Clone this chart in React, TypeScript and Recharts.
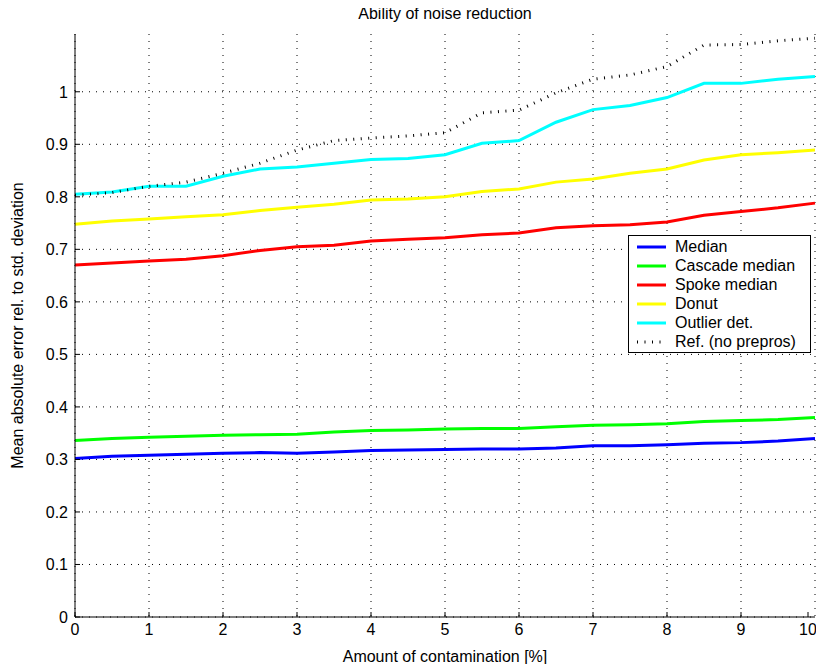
import React from 'react';
import { LineChart, Line, XAxis, YAxis, CartesianGrid, Legend } from 'recharts';

const contamination = [0, 0.5, 1, 1.5, 2, 2.5, 3, 3.5, 4, 4.5, 5, 5.5, 6, 6.5, 7, 7.5, 8, 8.5, 9, 9.5, 10];

const median = [0.302, 0.306, 0.308, 0.31, 0.312, 0.313, 0.312, 0.314, 0.317, 0.318, 0.319, 0.32, 0.32, 0.322, 0.326, 0.326, 0.328, 0.331, 0.332, 0.335, 0.34];
const cascadeMedian = [0.336, 0.34, 0.342, 0.344, 0.346, 0.347, 0.348, 0.352, 0.355, 0.356, 0.358, 0.359, 0.359, 0.362, 0.365, 0.366, 0.368, 0.372, 0.374, 0.376, 0.38];
const spokeMedian = [0.67, 0.674, 0.678, 0.681, 0.688, 0.698, 0.705, 0.708, 0.716, 0.719, 0.722, 0.728, 0.731, 0.741, 0.745, 0.747, 0.752, 0.765, 0.772, 0.779, 0.788];
const donut = [0.748, 0.754, 0.758, 0.762, 0.766, 0.774, 0.78, 0.786, 0.794, 0.796, 0.8, 0.81, 0.815, 0.828, 0.834, 0.845, 0.853, 0.87, 0.88, 0.884, 0.889];
const outlierDet = [0.805, 0.809, 0.82, 0.82, 0.839, 0.853, 0.857, 0.864, 0.871, 0.873, 0.88, 0.902, 0.907, 0.942, 0.966, 0.974, 0.989, 1.016, 1.016, 1.024, 1.029];
const refNoPrepros = [0.803, 0.808, 0.82, 0.828, 0.845, 0.864, 0.889, 0.907, 0.912, 0.916, 0.922, 0.96, 0.965, 0.998, 1.024, 1.032, 1.048, 1.089, 1.09, 1.097, 1.102];

const xTicks = [0, 1, 2, 3, 4, 5, 6, 7, 8, 9, 10];
const yTicks = [0, 0.1, 0.2, 0.3, 0.4, 0.5, 0.6, 0.7, 0.8, 0.9, 1];

const series = [
  { key: 'median', name: 'Median', color: '#0000ff', values: median },
  { key: 'cascade', name: 'Cascade median', color: '#00ff00', values: cascadeMedian },
  { key: 'spoke', name: 'Spoke median', color: '#ff0000', values: spokeMedian },
  { key: 'donut', name: 'Donut', color: '#ffff00', values: donut },
  { key: 'outlier', name: 'Outlier det.', color: '#00ffff', values: outlierDet },
  { key: 'ref', name: 'Ref. (no prepros)', color: '#000000', values: refNoPrepros, dotted: true },
];

const data = contamination.map((x, i) => {
  const row: Record<string, number> = { x };
  series.forEach(s => { row[s.key] = s.values[i]; });
  return row;
});

const font = '"Liberation Sans", Arial, Helvetica, sans-serif';
const FS = 16;
const TICK_OFF = 6; // tickSize + tickMargin

function XTick(props: any) {
  const { x, y, payload } = props;
  const axisY = y - TICK_OFF;
  return (
    <g>
      <line x1={x} y1={axisY} x2={x} y2={axisY - 5} stroke="#000" />
      <text x={x} y={y} dy="0.72em" textAnchor="middle" fontSize={FS} fontFamily={font} fill="#000">{payload.value}</text>
    </g>
  );
}

function YTick(props: any) {
  const { x, y, payload } = props;
  const axisX = x + TICK_OFF;
  return (
    <g>
      <line x1={axisX} y1={y} x2={axisX + 5} y2={y} stroke="#000" />
      <text x={x - 1} y={y} dy="0.36em" textAnchor="end" fontSize={FS} fontFamily={font} fill="#000">{payload.value}</text>
    </g>
  );
}

function LegendBox() {
  return (
    <div style={{ border: '1px solid #000', background: '#fff', padding: '1px 0', fontFamily: font, fontSize: FS, lineHeight: '19px' }}>
      {series.map(s => (
        <div key={s.key} style={{ display: 'flex', alignItems: 'center', height: 19 }}>
          <svg width={46} height={19} style={{ flex: 'none' }}>
            <line x1={8} y1={10} x2={37} y2={10} stroke={s.color} strokeWidth={3} strokeDasharray={s.dotted ? '1 6.5' : undefined} />
          </svg>
          <span style={{ whiteSpace: 'nowrap' }}>{s.name}</span>
        </div>
      ))}
    </div>
  );
}

export default function App() {
  return (
    <div style={{ position: 'relative', width: 808, height: 656, fontFamily: font }}>
      <div style={{ position: 'absolute', top: -3, left: 67, width: 740, textAlign: 'center', fontSize: FS }}>
        Ability of noise reduction
      </div>
      <LineChart width={808} height={656} data={data} margin={{ top: 26, right: 1, bottom: 0, left: 7 }}>
        <CartesianGrid stroke="#000" strokeDasharray="1 6" horizontalValues={yTicks} verticalValues={xTicks} />
        <XAxis
          dataKey="x"
          type="number"
          domain={[0, 10]}
          ticks={xTicks}
          height={47}
          tickSize={4}
          tickMargin={2}
          tickLine={false}
          tick={<XTick />}
          axisLine={{ stroke: '#000' }}
          label={{ value: 'Amount of contamination [%]', position: 'insideBottom', offset: 2, fill: '#000', fontSize: FS, fontFamily: font }}
        />
        <YAxis
          type="number"
          domain={[0, 1.11]}
          ticks={yTicks}
          width={60}
          tickSize={4}
          tickMargin={2}
          tickLine={false}
          tick={<YTick />}
          axisLine={{ stroke: '#000' }}
          allowDataOverflow
          label={{ value: 'Mean absolute error rel. to std. deviation', angle: -90, position: 'insideLeft', offset: 2, fill: '#000', fontSize: FS, fontFamily: font, style: { textAnchor: 'middle' } }}
        />
        {series.map(s => (
          <Line
            key={s.key}
            dataKey={s.key}
            name={s.name}
            type="linear"
            stroke={s.color}
            strokeWidth={3}
            strokeDasharray={s.dotted ? '1 6.5' : undefined}
            dot={false}
            activeDot={false}
            isAnimationActive={false}
          />
        ))}
        <Legend
          layout="horizontal"
          verticalAlign="middle"
          align="center"
          content={<LegendBox />}
          wrapperStyle={{ position: 'absolute', left: 620, top: 227, width: 183, height: 'auto' }}
        />
      </LineChart>
    </div>
  );
}
